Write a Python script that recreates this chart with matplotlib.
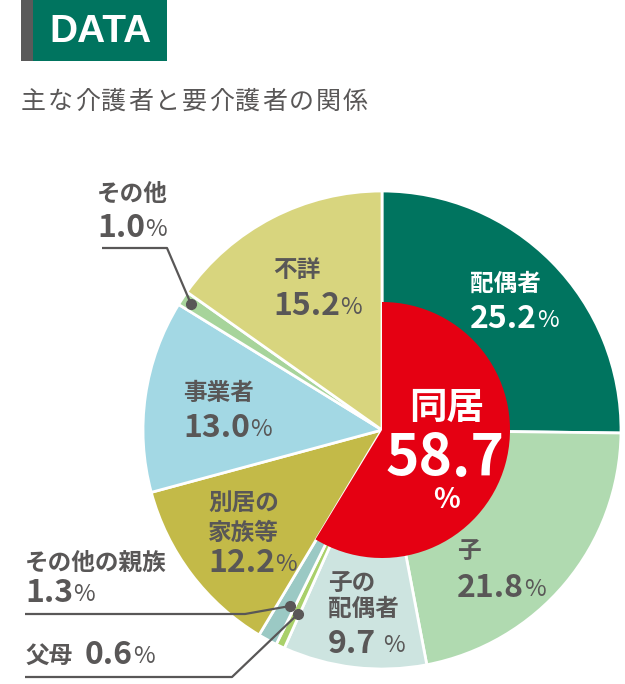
import matplotlib.pyplot as plt
from matplotlib.patches import Rectangle, Wedge

plt.rcParams['font.family'] = ['Noto Sans CJK JP', 'DejaVu Sans']

# data
labels = ['配偶者', '子', '子の配偶者', '父母', 'その他の親族',
          '別居の家族等', '事業者', 'その他', '不詳']
values = [25.2, 21.8, 9.7, 0.6, 1.3, 12.2, 13.0, 1.0, 15.2]
colors = ['#00745F', '#B0DAB0', '#CDE4E0', '#A9D06A', '#9BC9C4',
          '#C3BA48', '#A3D8E4', '#A7D49B', '#D8D57E']
together_label = '同居'
together_value = 58.7

W, H = 625, 684
GRAY = '#595757'
fig = plt.figure(figsize=(W / 100, H / 100), dpi=100)
ax = fig.add_axes([0, 0, 1, 1])


def Y(y):
    # image y (from top) -> data y
    return H - y


cx, cy, R = 382, Y(430), 239
ax.pie(values, colors=colors, startangle=90, counterclock=False,
       center=(cx, cy), radius=R,
       wedgeprops=dict(edgecolor='white', linewidth=2))
ang = together_value * 3.6
ax.add_patch(Wedge((cx, cy), 128, 90 - ang, 90, facecolor='#E50012',
                   edgecolor='none', zorder=3))

ax.set_xlim(0, W)
ax.set_ylim(0, H)
ax.set_aspect('equal')
ax.axis('off')

# header
ax.add_patch(Rectangle((21, Y(61)), 12, 61, color='#5A5A5A', lw=0))
ax.add_patch(Rectangle((33, Y(61)), 134, 61, color='#00745F', lw=0))
ax.text(100, Y(32), 'DATA', color='white', fontsize=28, fontweight='bold',
        family='Liberation Sans', ha='center', va='center')
title = '主な介護者と要介護者の関係'
for i, ch in enumerate(title):
    ax.text(21 + i * 26.8, Y(109), ch, color=GRAY, fontsize=18,
            ha='left', va='baseline')


def label(x, lines, num, ybase, color=GRAY, pct_gap=0):
    # lines: list of (text, baseline y)
    for t, yb in lines:
        ax.text(x, Y(yb), t, color=color, fontsize=17, fontweight='bold',
                ha='left', va='baseline', zorder=5)
    nt = ax.text(x, Y(ybase), num, color=color, fontsize=23,
                 fontweight='bold', ha='left', va='baseline', zorder=5)
    ax.annotate('%', xy=(1, 0), xycoords=nt, xytext=(pct_gap, 2),
                textcoords='offset points', color=color, fontsize=17,
                ha='left', va='bottom', zorder=5)


fmt = ['{:.1f}'.format(v) for v in values]
label(470, [(labels[0], 291)], fmt[0], 328, color='white')
label(457, [(labels[1], 558)], fmt[1], 597)
label(328, [('子の', 590), ('配偶者', 616)], fmt[2], 653, pct_gap=5)
label(208, [('別居の', 510), ('家族等', 540)], fmt[5], 572)
label(183, [(labels[6], 400)], fmt[6], 437)
label(273, [(labels[8], 277)], fmt[8], 315)
label(97, [(labels[7], 201)], fmt[7], 237)
label(25, [(labels[4], 570)], fmt[4], 602)

ax.text(25, Y(663), labels[3], color=GRAY, fontsize=17, fontweight='bold',
        ha='left', va='baseline')
nt = ax.text(85, Y(664), fmt[3], color=GRAY, fontsize=23, fontweight='bold',
             ha='left', va='baseline')
ax.annotate('%', xy=(1, 0), xycoords=nt, xytext=(0, 2),
            textcoords='offset points', color=GRAY, fontsize=17,
            ha='left', va='bottom')

# center label
ax.text(447, Y(419), together_label, color='white', fontsize=27,
        fontweight='bold', ha='center', va='baseline', zorder=5)
ax.text(445, Y(476), '{:.1f}'.format(together_value), color='white',
        fontsize=41, fontweight='bold', ha='center', va='baseline', zorder=5)
ax.text(446, Y(508), '%', color='white', fontsize=20, fontweight='bold',
        ha='center', va='baseline', zorder=5)

# leader lines
lk = dict(color=GRAY, lw=1.6, zorder=6, solid_capstyle='butt')
ax.plot([102, 167, 191], [Y(248), Y(248), Y(304)], **lk)
ax.plot([25, 245, 290], [Y(614), Y(614), Y(606)], **lk)
ax.plot([25, 232, 298], [Y(677), Y(677), Y(614)], **lk)
for px, py in [(191, 304), (290, 606), (298, 614)]:
    ax.plot(px, Y(py), 'o', color=GRAY, ms=7, zorder=7)

fig.savefig('out.png', dpi=100)
